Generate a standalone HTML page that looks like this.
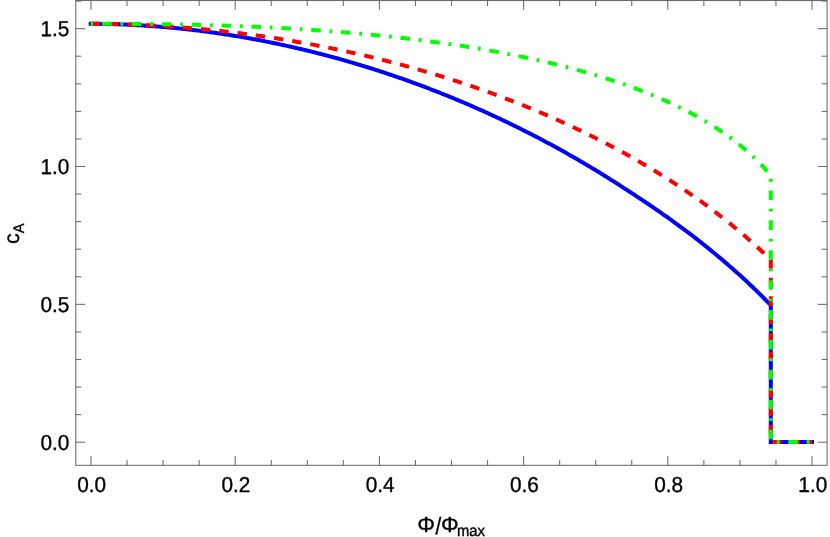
<!DOCTYPE html>
<html><head><meta charset="utf-8"><title>plot</title>
<style>
html,body{margin:0;padding:0;background:#fff;}
body{width:830px;height:537px;overflow:hidden;}
svg{display:block;}
text{font-family:"Liberation Sans",sans-serif;fill:#000;stroke:#000;stroke-width:0.35px;text-rendering:geometricPrecision;}
.tl{font-size:21px;}
</style></head><body>
<svg width="830" height="537" viewBox="0 0 830 537">
<rect width="830" height="537" fill="#fff"/>
<g stroke="#6a6a6a" stroke-width="1.05" fill="none">
<rect x="75.79" y="0.52" width="751.29" height="464.78"/>
<line x1="91.00" y1="465.3" x2="91.00" y2="456.00"/>
<line x1="91.00" y1="0.52" x2="91.00" y2="9.82"/>
<line x1="127.05" y1="465.3" x2="127.05" y2="459.90"/>
<line x1="127.05" y1="0.52" x2="127.05" y2="5.92"/>
<line x1="163.10" y1="465.3" x2="163.10" y2="459.90"/>
<line x1="163.10" y1="0.52" x2="163.10" y2="5.92"/>
<line x1="199.15" y1="465.3" x2="199.15" y2="459.90"/>
<line x1="199.15" y1="0.52" x2="199.15" y2="5.92"/>
<line x1="235.20" y1="465.3" x2="235.20" y2="456.00"/>
<line x1="235.20" y1="0.52" x2="235.20" y2="9.82"/>
<line x1="271.25" y1="465.3" x2="271.25" y2="459.90"/>
<line x1="271.25" y1="0.52" x2="271.25" y2="5.92"/>
<line x1="307.30" y1="465.3" x2="307.30" y2="459.90"/>
<line x1="307.30" y1="0.52" x2="307.30" y2="5.92"/>
<line x1="343.35" y1="465.3" x2="343.35" y2="459.90"/>
<line x1="343.35" y1="0.52" x2="343.35" y2="5.92"/>
<line x1="379.40" y1="465.3" x2="379.40" y2="456.00"/>
<line x1="379.40" y1="0.52" x2="379.40" y2="9.82"/>
<line x1="415.45" y1="465.3" x2="415.45" y2="459.90"/>
<line x1="415.45" y1="0.52" x2="415.45" y2="5.92"/>
<line x1="451.50" y1="465.3" x2="451.50" y2="459.90"/>
<line x1="451.50" y1="0.52" x2="451.50" y2="5.92"/>
<line x1="487.55" y1="465.3" x2="487.55" y2="459.90"/>
<line x1="487.55" y1="0.52" x2="487.55" y2="5.92"/>
<line x1="523.60" y1="465.3" x2="523.60" y2="456.00"/>
<line x1="523.60" y1="0.52" x2="523.60" y2="9.82"/>
<line x1="559.65" y1="465.3" x2="559.65" y2="459.90"/>
<line x1="559.65" y1="0.52" x2="559.65" y2="5.92"/>
<line x1="595.70" y1="465.3" x2="595.70" y2="459.90"/>
<line x1="595.70" y1="0.52" x2="595.70" y2="5.92"/>
<line x1="631.75" y1="465.3" x2="631.75" y2="459.90"/>
<line x1="631.75" y1="0.52" x2="631.75" y2="5.92"/>
<line x1="667.80" y1="465.3" x2="667.80" y2="456.00"/>
<line x1="667.80" y1="0.52" x2="667.80" y2="9.82"/>
<line x1="703.85" y1="465.3" x2="703.85" y2="459.90"/>
<line x1="703.85" y1="0.52" x2="703.85" y2="5.92"/>
<line x1="739.90" y1="465.3" x2="739.90" y2="459.90"/>
<line x1="739.90" y1="0.52" x2="739.90" y2="5.92"/>
<line x1="775.95" y1="465.3" x2="775.95" y2="459.90"/>
<line x1="775.95" y1="0.52" x2="775.95" y2="5.92"/>
<line x1="812.00" y1="465.3" x2="812.00" y2="456.00"/>
<line x1="812.00" y1="0.52" x2="812.00" y2="9.82"/>
<line x1="75.79" y1="442.20" x2="85.09" y2="442.20"/>
<line x1="827.08" y1="442.20" x2="817.78" y2="442.20"/>
<line x1="75.79" y1="414.63" x2="81.19" y2="414.63"/>
<line x1="827.08" y1="414.63" x2="821.68" y2="414.63"/>
<line x1="75.79" y1="387.06" x2="81.19" y2="387.06"/>
<line x1="827.08" y1="387.06" x2="821.68" y2="387.06"/>
<line x1="75.79" y1="359.49" x2="81.19" y2="359.49"/>
<line x1="827.08" y1="359.49" x2="821.68" y2="359.49"/>
<line x1="75.79" y1="331.92" x2="81.19" y2="331.92"/>
<line x1="827.08" y1="331.92" x2="821.68" y2="331.92"/>
<line x1="75.79" y1="304.35" x2="85.09" y2="304.35"/>
<line x1="827.08" y1="304.35" x2="817.78" y2="304.35"/>
<line x1="75.79" y1="276.78" x2="81.19" y2="276.78"/>
<line x1="827.08" y1="276.78" x2="821.68" y2="276.78"/>
<line x1="75.79" y1="249.21" x2="81.19" y2="249.21"/>
<line x1="827.08" y1="249.21" x2="821.68" y2="249.21"/>
<line x1="75.79" y1="221.64" x2="81.19" y2="221.64"/>
<line x1="827.08" y1="221.64" x2="821.68" y2="221.64"/>
<line x1="75.79" y1="194.07" x2="81.19" y2="194.07"/>
<line x1="827.08" y1="194.07" x2="821.68" y2="194.07"/>
<line x1="75.79" y1="166.50" x2="85.09" y2="166.50"/>
<line x1="827.08" y1="166.50" x2="817.78" y2="166.50"/>
<line x1="75.79" y1="138.93" x2="81.19" y2="138.93"/>
<line x1="827.08" y1="138.93" x2="821.68" y2="138.93"/>
<line x1="75.79" y1="111.36" x2="81.19" y2="111.36"/>
<line x1="827.08" y1="111.36" x2="821.68" y2="111.36"/>
<line x1="75.79" y1="83.79" x2="81.19" y2="83.79"/>
<line x1="827.08" y1="83.79" x2="821.68" y2="83.79"/>
<line x1="75.79" y1="56.22" x2="81.19" y2="56.22"/>
<line x1="827.08" y1="56.22" x2="821.68" y2="56.22"/>
<line x1="75.79" y1="28.65" x2="85.09" y2="28.65"/>
<line x1="827.08" y1="28.65" x2="817.78" y2="28.65"/>
<line x1="75.79" y1="1.08" x2="81.19" y2="1.08"/>
<line x1="827.08" y1="1.08" x2="821.68" y2="1.08"/>
</g>

<path d="M90.70,23.82 L92.06,23.82 L93.43,23.82 L94.79,23.83 L96.15,23.84 L97.51,23.85 L98.88,23.86 L100.24,23.88 L101.60,23.90 L102.97,23.92 L104.33,23.94 L105.69,23.97 L107.06,23.99 L108.42,24.02 L109.78,24.05 L111.14,24.09 L112.51,24.12 L113.87,24.16 L115.23,24.20 L116.60,24.24 L117.96,24.29 L119.32,24.33 L120.68,24.38 L122.05,24.44 L123.41,24.49 L124.77,24.54 L126.14,24.60 L127.50,24.66 L128.86,24.72 L130.22,24.79 L131.59,24.85 L132.95,24.92 L134.31,24.99 L135.68,25.06 L137.04,25.14 L138.40,25.21 L139.77,25.29 L141.13,25.37 L142.49,25.46 L143.85,25.54 L145.22,25.63 L146.58,25.72 L147.94,25.81 L149.31,25.90 L150.67,26.00 L152.03,26.10 L153.39,26.20 L154.76,26.30 L156.12,26.40 L157.48,26.51 L158.85,26.62 L160.21,26.73 L161.57,26.84 L162.94,26.95 L164.30,27.07 L165.66,27.19 L167.02,27.31 L168.39,27.43 L169.75,27.55 L171.11,27.68 L172.48,27.81 L173.84,27.94 L175.20,28.07 L176.56,28.21 L177.93,28.34 L179.29,28.48 L180.65,28.62 L182.02,28.77 L183.38,28.91 L184.74,29.06 L186.10,29.21 L187.47,29.36 L188.83,29.51 L190.19,29.67 L191.56,29.82 L192.92,29.98 L194.28,30.14 L195.65,30.31 L197.01,30.47 L198.37,30.64 L199.73,30.81 L201.10,30.98 L202.46,31.15 L203.82,31.33 L205.19,31.51 L206.55,31.69 L207.91,31.87 L209.27,32.05 L210.64,32.24 L212.00,32.43 L213.36,32.62 L214.73,32.81 L216.09,33.00 L217.45,33.20 L218.82,33.40 L220.18,33.60 L221.54,33.80 L222.90,34.00 L224.27,34.21 L225.63,34.42 L226.99,34.63 L228.36,34.84 L229.72,35.05 L231.08,35.27 L232.44,35.49 L233.81,35.71 L235.17,35.93 L236.53,36.15 L237.90,36.38 L239.26,36.61 L240.62,36.84 L241.98,37.07 L243.35,37.31 L244.71,37.54 L246.07,37.78 L247.44,38.02 L248.80,38.27 L250.16,38.51 L251.53,38.76 L252.89,39.01 L254.25,39.26 L255.61,39.51 L256.98,39.76 L258.34,40.02 L259.70,40.28 L261.07,40.54 L262.43,40.80 L263.79,41.07 L265.15,41.34 L266.52,41.60 L267.88,41.88 L269.24,42.15 L270.61,42.42 L271.97,42.70 L273.33,42.98 L274.69,43.26 L276.06,43.55 L277.42,43.83 L278.78,44.12 L280.15,44.41 L281.51,44.70 L282.87,44.99 L284.24,45.29 L285.60,45.59 L286.96,45.89 L288.32,46.19 L289.69,46.49 L291.05,46.80 L292.41,47.11 L293.78,47.42 L295.14,47.73 L296.50,48.04 L297.86,48.36 L299.23,48.68 L300.59,49.00 L301.95,49.32 L303.32,49.64 L304.68,49.97 L306.04,50.30 L307.41,50.63 L308.77,50.96 L310.13,51.30 L311.49,51.63 L312.86,51.97 L314.22,52.31 L315.58,52.65 L316.95,53.00 L318.31,53.35 L319.67,53.70 L321.03,54.05 L322.40,54.40 L323.76,54.76 L325.12,55.11 L326.49,55.47 L327.85,55.83 L329.21,56.20 L330.57,56.56 L331.94,56.93 L333.30,57.30 L334.66,57.67 L336.03,58.05 L337.39,58.42 L338.75,58.80 L340.12,59.18 L341.48,59.56 L342.84,59.95 L344.20,60.34 L345.57,60.72 L346.93,61.11 L348.29,61.51 L349.66,61.90 L351.02,62.30 L352.38,62.70 L353.74,63.10 L355.11,63.50 L356.47,63.91 L357.83,64.32 L359.20,64.73 L360.56,65.14 L361.92,65.55 L363.29,65.97 L364.65,66.39 L366.01,66.81 L367.37,67.23 L368.74,67.65 L370.10,68.08 L371.46,68.51 L372.83,68.94 L374.19,69.37 L375.55,69.81 L376.91,70.24 L378.28,70.68 L379.64,71.13 L381.00,71.57 L382.37,72.02 L383.73,72.46 L385.09,72.91 L386.45,73.37 L387.82,73.82 L389.18,74.28 L390.54,74.74 L391.91,75.20 L393.27,75.66 L394.63,76.12 L396.00,76.59 L397.36,77.06 L398.72,77.53 L400.08,78.01 L401.45,78.48 L402.81,78.96 L404.17,79.44 L405.54,79.92 L406.90,80.41 L408.26,80.90 L409.62,81.39 L410.99,81.88 L412.35,82.37 L413.71,82.87 L415.08,83.36 L416.44,83.86 L417.80,84.37 L419.17,84.87 L420.53,85.38 L421.89,85.89 L423.25,86.40 L424.62,86.91 L425.98,87.43 L427.34,87.94 L428.71,88.46 L430.07,88.99 L431.43,89.51 L432.79,90.04 L434.16,90.57 L435.52,91.10 L436.88,91.63 L438.25,92.17 L439.61,92.71 L440.97,93.25 L442.33,93.79 L443.70,94.33 L445.06,94.88 L446.42,95.43 L447.79,95.98 L449.15,96.54 L450.51,97.09 L451.88,97.65 L453.24,98.21 L454.60,98.77 L455.96,99.34 L457.33,99.91 L458.69,100.48 L460.05,101.05 L461.42,101.62 L462.78,102.20 L464.14,102.78 L465.50,103.36 L466.87,103.94 L468.23,104.53 L469.59,105.12 L470.96,105.71 L472.32,106.30 L473.68,106.90 L475.05,107.49 L476.41,108.09 L477.77,108.70 L479.13,109.30 L480.50,109.91 L481.86,110.52 L483.22,111.13 L484.59,111.74 L485.95,112.36 L487.31,112.98 L488.67,113.60 L490.04,114.22 L491.40,114.85 L492.76,115.48 L494.13,116.11 L495.49,116.74 L496.85,117.38 L498.21,118.02 L499.58,118.66 L500.94,119.30 L502.30,119.94 L503.67,120.59 L505.03,121.24 L506.39,121.90 L507.76,122.55 L509.12,123.21 L510.48,123.87 L511.84,124.53 L513.21,125.20 L514.57,125.86 L515.93,126.53 L517.30,127.20 L518.66,127.88 L520.02,128.56 L521.38,129.24 L522.75,129.92 L524.11,130.60 L525.47,131.29 L526.84,131.98 L528.20,132.67 L529.56,133.37 L530.93,134.07 L532.29,134.77 L533.65,135.47 L535.01,136.17 L536.38,136.88 L537.74,137.59 L539.10,138.30 L540.47,139.02 L541.83,139.74 L543.19,140.46 L544.55,141.18 L545.92,141.91 L547.28,142.64 L548.64,143.37 L550.01,144.10 L551.37,144.84 L552.73,145.58 L554.09,146.32 L555.46,147.06 L556.82,147.81 L558.18,148.56 L559.55,149.31 L560.91,150.07 L562.27,150.82 L563.64,151.58 L565.00,152.35 L566.36,153.11 L567.72,153.88 L569.09,154.65 L570.45,155.43 L571.81,156.20 L573.18,156.98 L574.54,157.76 L575.90,158.55 L577.26,159.34 L578.63,160.13 L579.99,160.92 L581.35,161.72 L582.72,162.51 L584.08,163.32 L585.44,164.12 L586.81,164.93 L588.17,165.74 L589.53,166.55 L590.89,167.37 L592.26,168.19 L593.62,169.01 L594.98,169.83 L596.35,170.66 L597.71,171.49 L599.07,172.32 L600.43,173.16 L601.80,174.00 L603.16,174.84 L604.52,175.68 L605.89,176.53 L607.25,177.38 L608.61,178.24 L609.97,179.09 L611.34,179.95 L612.70,180.82 L614.06,181.68 L615.43,182.55 L616.79,183.42 L618.15,184.30 L619.52,185.18 L620.88,186.06 L622.24,186.94 L623.60,187.82 L624.97,188.71 L626.33,189.59 L627.69,190.47 L629.06,191.36 L630.42,192.25 L631.78,193.14 L633.14,194.03 L634.51,194.92 L635.87,195.82 L637.23,196.71 L638.60,197.61 L639.96,198.51 L641.32,199.42 L642.68,200.33 L644.05,201.23 L645.41,202.15 L646.77,203.06 L648.14,203.98 L649.50,204.90 L650.86,205.83 L652.23,206.76 L653.59,207.69 L654.95,208.63 L656.31,209.57 L657.68,210.51 L659.04,211.46 L660.40,212.41 L661.77,213.37 L663.13,214.33 L664.49,215.29 L665.85,216.25 L667.22,217.21 L668.58,218.18 L669.94,219.15 L671.31,220.13 L672.67,221.10 L674.03,222.08 L675.40,223.07 L676.76,224.05 L678.12,225.04 L679.48,226.04 L680.85,227.04 L682.21,228.04 L683.57,229.05 L684.94,230.06 L686.30,231.08 L687.66,232.10 L689.02,233.13 L690.39,234.17 L691.75,235.20 L693.11,236.25 L694.48,237.30 L695.84,238.36 L697.20,239.42 L698.56,240.49 L699.93,241.56 L701.29,242.64 L702.65,243.73 L704.02,244.82 L705.38,245.91 L706.74,247.01 L708.11,248.11 L709.47,249.22 L710.83,250.33 L712.19,251.45 L713.56,252.57 L714.92,253.70 L716.28,254.83 L717.65,255.96 L719.01,257.10 L720.37,258.25 L721.73,259.40 L723.10,260.56 L724.46,261.72 L725.82,262.88 L727.19,264.05 L728.55,265.23 L729.91,266.41 L731.28,267.60 L732.64,268.79 L734.00,269.99 L735.36,271.20 L736.73,272.41 L738.09,273.62 L739.45,274.85 L740.82,276.07 L742.18,277.31 L743.54,278.56 L744.90,279.81 L746.27,281.08 L747.63,282.35 L748.99,283.63 L750.36,284.92 L751.72,286.22 L753.08,287.53 L754.44,288.84 L755.81,290.17 L757.17,291.50 L758.53,292.84 L759.90,294.19 L761.26,295.54 L762.62,296.90 L763.99,298.27 L765.35,299.65 L766.71,301.04 L768.07,302.43 L769.44,303.83 L770.80,305.24 L770.80,442.00 L812.00,442.00" fill="none" stroke="#0000ff" stroke-width="4.0" stroke-linecap="square" stroke-linejoin="miter"/>
<path d="M90.70,23.82 L92.06,23.82 L93.43,23.82 L94.79,23.83 L96.15,23.83 L97.51,23.84 L98.88,23.85 L100.24,23.86 L101.60,23.87 L102.97,23.89 L104.33,23.90 L105.69,23.92 L107.06,23.94 L108.42,23.96 L109.78,23.98 L111.14,24.01 L112.51,24.03 L113.87,24.06 L115.23,24.09 L116.60,24.12 L117.96,24.15 L119.32,24.18 L120.68,24.22 L122.05,24.26 L123.41,24.29 L124.77,24.33 L126.14,24.38 L127.50,24.42 L128.86,24.46 L130.22,24.51 L131.59,24.56 L132.95,24.61 L134.31,24.66 L135.68,24.71 L137.04,24.76 L138.40,24.82 L139.77,24.87 L141.13,24.93 L142.49,24.99 L143.85,25.05 L145.22,25.12 L146.58,25.18 L147.94,25.25 L149.31,25.32 L150.67,25.39 L152.03,25.46 L153.39,25.53 L154.76,25.60 L156.12,25.68 L157.48,25.75 L158.85,25.83 L160.21,25.91 L161.57,25.99 L162.94,26.08 L164.30,26.16 L165.66,26.25 L167.02,26.34 L168.39,26.43 L169.75,26.52 L171.11,26.61 L172.48,26.70 L173.84,26.80 L175.20,26.89 L176.56,26.99 L177.93,27.09 L179.29,27.19 L180.65,27.30 L182.02,27.40 L183.38,27.51 L184.74,27.62 L186.10,27.72 L187.47,27.83 L188.83,27.95 L190.19,28.06 L191.56,28.18 L192.92,28.29 L194.28,28.41 L195.65,28.53 L197.01,28.65 L198.37,28.78 L199.73,28.90 L201.10,29.03 L202.46,29.15 L203.82,29.28 L205.19,29.41 L206.55,29.54 L207.91,29.68 L209.27,29.81 L210.64,29.95 L212.00,30.09 L213.36,30.23 L214.73,30.37 L216.09,30.51 L217.45,30.66 L218.82,30.80 L220.18,30.95 L221.54,31.10 L222.90,31.25 L224.27,31.40 L225.63,31.56 L226.99,31.71 L228.36,31.87 L229.72,32.03 L231.08,32.19 L232.44,32.35 L233.81,32.51 L235.17,32.67 L236.53,32.84 L237.90,33.01 L239.26,33.18 L240.62,33.35 L241.98,33.52 L243.35,33.69 L244.71,33.87 L246.07,34.05 L247.44,34.23 L248.80,34.41 L250.16,34.59 L251.53,34.77 L252.89,34.95 L254.25,35.14 L255.61,35.33 L256.98,35.52 L258.34,35.71 L259.70,35.90 L261.07,36.10 L262.43,36.29 L263.79,36.49 L265.15,36.69 L266.52,36.89 L267.88,37.09 L269.24,37.29 L270.61,37.50 L271.97,37.71 L273.33,37.91 L274.69,38.12 L276.06,38.33 L277.42,38.55 L278.78,38.76 L280.15,38.98 L281.51,39.20 L282.87,39.42 L284.24,39.64 L285.60,39.86 L286.96,40.08 L288.32,40.31 L289.69,40.54 L291.05,40.77 L292.41,41.00 L293.78,41.23 L295.14,41.46 L296.50,41.70 L297.86,41.93 L299.23,42.17 L300.59,42.41 L301.95,42.65 L303.32,42.90 L304.68,43.14 L306.04,43.39 L307.41,43.64 L308.77,43.89 L310.13,44.14 L311.49,44.39 L312.86,44.65 L314.22,44.90 L315.58,45.16 L316.95,45.42 L318.31,45.68 L319.67,45.95 L321.03,46.21 L322.40,46.48 L323.76,46.74 L325.12,47.01 L326.49,47.29 L327.85,47.56 L329.21,47.83 L330.57,48.11 L331.94,48.39 L333.30,48.67 L334.66,48.95 L336.03,49.23 L337.39,49.51 L338.75,49.80 L340.12,50.09 L341.48,50.38 L342.84,50.67 L344.20,50.96 L345.57,51.26 L346.93,51.55 L348.29,51.85 L349.66,52.15 L351.02,52.45 L352.38,52.75 L353.74,53.06 L355.11,53.37 L356.47,53.67 L357.83,53.98 L359.20,54.29 L360.56,54.61 L361.92,54.92 L363.29,55.24 L364.65,55.56 L366.01,55.88 L367.37,56.20 L368.74,56.52 L370.10,56.85 L371.46,57.18 L372.83,57.50 L374.19,57.84 L375.55,58.17 L376.91,58.50 L378.28,58.84 L379.64,59.17 L381.00,59.51 L382.37,59.85 L383.73,60.20 L385.09,60.54 L386.45,60.89 L387.82,61.24 L389.18,61.59 L390.54,61.94 L391.91,62.29 L393.27,62.65 L394.63,63.00 L396.00,63.36 L397.36,63.72 L398.72,64.09 L400.08,64.45 L401.45,64.82 L402.81,65.18 L404.17,65.55 L405.54,65.92 L406.90,66.30 L408.26,66.67 L409.62,67.05 L410.99,67.43 L412.35,67.81 L413.71,68.19 L415.08,68.58 L416.44,68.96 L417.80,69.35 L419.17,69.74 L420.53,70.13 L421.89,70.53 L423.25,70.92 L424.62,71.32 L425.98,71.72 L427.34,72.12 L428.71,72.52 L430.07,72.93 L431.43,73.33 L432.79,73.74 L434.16,74.15 L435.52,74.57 L436.88,74.98 L438.25,75.40 L439.61,75.81 L440.97,76.24 L442.33,76.66 L443.70,77.08 L445.06,77.51 L446.42,77.94 L447.79,78.37 L449.15,78.80 L450.51,79.23 L451.88,79.67 L453.24,80.11 L454.60,80.55 L455.96,80.99 L457.33,81.43 L458.69,81.88 L460.05,82.32 L461.42,82.77 L462.78,83.23 L464.14,83.68 L465.50,84.14 L466.87,84.59 L468.23,85.05 L469.59,85.52 L470.96,85.98 L472.32,86.45 L473.68,86.91 L475.05,87.38 L476.41,87.86 L477.77,88.33 L479.13,88.81 L480.50,89.29 L481.86,89.77 L483.22,90.25 L484.59,90.73 L485.95,91.22 L487.31,91.71 L488.67,92.20 L490.04,92.70 L491.40,93.19 L492.76,93.69 L494.13,94.19 L495.49,94.69 L496.85,95.19 L498.21,95.70 L499.58,96.21 L500.94,96.72 L502.30,97.23 L503.67,97.75 L505.03,98.27 L506.39,98.78 L507.76,99.31 L509.12,99.83 L510.48,100.36 L511.84,100.89 L513.21,101.42 L514.57,101.95 L515.93,102.48 L517.30,103.02 L518.66,103.56 L520.02,104.10 L521.38,104.65 L522.75,105.20 L524.11,105.74 L525.47,106.30 L526.84,106.85 L528.20,107.41 L529.56,107.96 L530.93,108.53 L532.29,109.09 L533.65,109.65 L535.01,110.22 L536.38,110.79 L537.74,111.37 L539.10,111.94 L540.47,112.52 L541.83,113.10 L543.19,113.68 L544.55,114.27 L545.92,114.85 L547.28,115.44 L548.64,116.04 L550.01,116.63 L551.37,117.23 L552.73,117.83 L554.09,118.43 L555.46,119.04 L556.82,119.65 L558.18,120.26 L559.55,120.87 L560.91,121.48 L562.27,122.10 L563.64,122.72 L565.00,123.35 L566.36,123.97 L567.72,124.60 L569.09,125.23 L570.45,125.87 L571.81,126.50 L573.18,127.14 L574.54,127.78 L575.90,128.43 L577.26,129.08 L578.63,129.73 L579.99,130.38 L581.35,131.03 L582.72,131.69 L584.08,132.35 L585.44,133.02 L586.81,133.68 L588.17,134.35 L589.53,135.03 L590.89,135.70 L592.26,136.38 L593.62,137.06 L594.98,137.75 L596.35,138.43 L597.71,139.12 L599.07,139.82 L600.43,140.51 L601.80,141.21 L603.16,141.91 L604.52,142.62 L605.89,143.33 L607.25,144.04 L608.61,144.75 L609.97,145.47 L611.34,146.19 L612.70,146.91 L614.06,147.64 L615.43,148.37 L616.79,149.10 L618.15,149.84 L619.52,150.58 L620.88,151.32 L622.24,152.07 L623.60,152.82 L624.97,153.57 L626.33,154.32 L627.69,155.08 L629.06,155.85 L630.42,156.61 L631.78,157.38 L633.14,158.15 L634.51,158.93 L635.87,159.71 L637.23,160.49 L638.60,161.28 L639.96,162.07 L641.32,162.86 L642.68,163.66 L644.05,164.46 L645.41,165.27 L646.77,166.07 L648.14,166.89 L649.50,167.70 L650.86,168.52 L652.23,169.34 L653.59,170.17 L654.95,171.00 L656.31,171.83 L657.68,172.67 L659.04,173.51 L660.40,174.36 L661.77,175.21 L663.13,176.06 L664.49,176.92 L665.85,177.78 L667.22,178.65 L668.58,179.52 L669.94,180.39 L671.31,181.27 L672.67,182.16 L674.03,183.04 L675.40,183.93 L676.76,184.83 L678.12,185.73 L679.48,186.63 L680.85,187.54 L682.21,188.45 L683.57,189.37 L684.94,190.29 L686.30,191.22 L687.66,192.15 L689.02,193.09 L690.39,194.03 L691.75,194.97 L693.11,195.92 L694.48,196.88 L695.84,197.84 L697.20,198.80 L698.56,199.77 L699.93,200.74 L701.29,201.72 L702.65,202.71 L704.02,203.70 L705.38,204.69 L706.74,205.69 L708.11,206.70 L709.47,207.71 L710.83,208.72 L712.19,209.75 L713.56,210.77 L714.92,211.81 L716.28,212.84 L717.65,213.89 L719.01,214.94 L720.37,215.99 L721.73,217.05 L723.10,218.12 L724.46,219.19 L725.82,220.27 L727.19,221.36 L728.55,222.45 L729.91,223.55 L731.28,224.65 L732.64,225.76 L734.00,226.88 L735.36,228.01 L736.73,229.14 L738.09,230.27 L739.45,231.42 L740.82,232.57 L742.18,233.73 L743.54,234.89 L744.90,236.07 L746.27,237.25 L747.63,238.43 L748.99,239.63 L750.36,240.83 L751.72,242.04 L753.08,243.26 L754.44,244.49 L755.81,245.72 L757.17,246.97 L758.53,248.22 L759.90,249.48 L761.26,250.74 L762.62,252.02 L763.99,253.31 L765.35,254.60 L766.71,255.91 L768.07,257.22 L769.44,258.54 L770.80,259.88 L770.80,442.00 L812.00,442.00" fill="none" stroke="#ff0000" stroke-width="4.0" stroke-dasharray="9.4 9.0" stroke-linejoin="miter"/>
<path d="M90.70,23.82 L92.06,23.82 L93.43,23.82 L94.79,23.82 L96.15,23.82 L97.51,23.82 L98.88,23.82 L100.24,23.82 L101.60,23.82 L102.97,23.82 L104.33,23.83 L105.69,23.83 L107.06,23.83 L108.42,23.83 L109.78,23.84 L111.14,23.84 L112.51,23.84 L113.87,23.85 L115.23,23.85 L116.60,23.85 L117.96,23.86 L119.32,23.86 L120.68,23.87 L122.05,23.87 L123.41,23.88 L124.77,23.89 L126.14,23.89 L127.50,23.90 L128.86,23.91 L130.22,23.92 L131.59,23.92 L132.95,23.93 L134.31,23.94 L135.68,23.95 L137.04,23.96 L138.40,23.97 L139.77,23.98 L141.13,23.99 L142.49,24.01 L143.85,24.02 L145.22,24.03 L146.58,24.04 L147.94,24.06 L149.31,24.07 L150.67,24.08 L152.03,24.10 L153.39,24.11 L154.76,24.13 L156.12,24.14 L157.48,24.16 L158.85,24.18 L160.21,24.20 L161.57,24.21 L162.94,24.23 L164.30,24.25 L165.66,24.27 L167.02,24.29 L168.39,24.31 L169.75,24.33 L171.11,24.35 L172.48,24.37 L173.84,24.40 L175.20,24.42 L176.56,24.44 L177.93,24.47 L179.29,24.49 L180.65,24.52 L182.02,24.54 L183.38,24.57 L184.74,24.59 L186.10,24.62 L187.47,24.65 L188.83,24.68 L190.19,24.71 L191.56,24.74 L192.92,24.77 L194.28,24.80 L195.65,24.83 L197.01,24.86 L198.37,24.89 L199.73,24.92 L201.10,24.96 L202.46,24.99 L203.82,25.03 L205.19,25.06 L206.55,25.10 L207.91,25.13 L209.27,25.17 L210.64,25.21 L212.00,25.25 L213.36,25.28 L214.73,25.32 L216.09,25.36 L217.45,25.40 L218.82,25.44 L220.18,25.49 L221.54,25.53 L222.90,25.57 L224.27,25.62 L225.63,25.66 L226.99,25.71 L228.36,25.75 L229.72,25.80 L231.08,25.84 L232.44,25.89 L233.81,25.94 L235.17,25.99 L236.53,26.04 L237.90,26.09 L239.26,26.14 L240.62,26.19 L241.98,26.24 L243.35,26.30 L244.71,26.35 L246.07,26.40 L247.44,26.46 L248.80,26.51 L250.16,26.57 L251.53,26.63 L252.89,26.68 L254.25,26.74 L255.61,26.80 L256.98,26.86 L258.34,26.92 L259.70,26.98 L261.07,27.05 L262.43,27.11 L263.79,27.17 L265.15,27.24 L266.52,27.30 L267.88,27.37 L269.24,27.43 L270.61,27.50 L271.97,27.57 L273.33,27.64 L274.69,27.70 L276.06,27.77 L277.42,27.85 L278.78,27.92 L280.15,27.99 L281.51,28.06 L282.87,28.14 L284.24,28.21 L285.60,28.29 L286.96,28.36 L288.32,28.44 L289.69,28.52 L291.05,28.60 L292.41,28.67 L293.78,28.75 L295.14,28.84 L296.50,28.92 L297.86,29.00 L299.23,29.08 L300.59,29.17 L301.95,29.25 L303.32,29.34 L304.68,29.42 L306.04,29.51 L307.41,29.60 L308.77,29.69 L310.13,29.78 L311.49,29.87 L312.86,29.96 L314.22,30.05 L315.58,30.15 L316.95,30.24 L318.31,30.33 L319.67,30.43 L321.03,30.53 L322.40,30.62 L323.76,30.72 L325.12,30.82 L326.49,30.92 L327.85,31.02 L329.21,31.12 L330.57,31.23 L331.94,31.33 L333.30,31.43 L334.66,31.54 L336.03,31.65 L337.39,31.75 L338.75,31.86 L340.12,31.97 L341.48,32.08 L342.84,32.19 L344.20,32.30 L345.57,32.42 L346.93,32.53 L348.29,32.64 L349.66,32.76 L351.02,32.88 L352.38,32.99 L353.74,33.11 L355.11,33.23 L356.47,33.35 L357.83,33.47 L359.20,33.59 L360.56,33.72 L361.92,33.84 L363.29,33.97 L364.65,34.09 L366.01,34.22 L367.37,34.35 L368.74,34.48 L370.10,34.61 L371.46,34.74 L372.83,34.87 L374.19,35.00 L375.55,35.14 L376.91,35.27 L378.28,35.41 L379.64,35.55 L381.00,35.69 L382.37,35.83 L383.73,35.97 L385.09,36.11 L386.45,36.25 L387.82,36.39 L389.18,36.54 L390.54,36.68 L391.91,36.83 L393.27,36.98 L394.63,37.13 L396.00,37.28 L397.36,37.43 L398.72,37.58 L400.08,37.73 L401.45,37.89 L402.81,38.05 L404.17,38.20 L405.54,38.36 L406.90,38.52 L408.26,38.68 L409.62,38.84 L410.99,39.00 L412.35,39.17 L413.71,39.33 L415.08,39.50 L416.44,39.66 L417.80,39.83 L419.17,40.00 L420.53,40.17 L421.89,40.35 L423.25,40.52 L424.62,40.69 L425.98,40.87 L427.34,41.05 L428.71,41.22 L430.07,41.40 L431.43,41.58 L432.79,41.77 L434.16,41.95 L435.52,42.13 L436.88,42.32 L438.25,42.51 L439.61,42.69 L440.97,42.88 L442.33,43.07 L443.70,43.27 L445.06,43.46 L446.42,43.66 L447.79,43.85 L449.15,44.05 L450.51,44.25 L451.88,44.45 L453.24,44.65 L454.60,44.85 L455.96,45.06 L457.33,45.26 L458.69,45.47 L460.05,45.68 L461.42,45.89 L462.78,46.10 L464.14,46.31 L465.50,46.53 L466.87,46.74 L468.23,46.96 L469.59,47.18 L470.96,47.40 L472.32,47.62 L473.68,47.84 L475.05,48.06 L476.41,48.29 L477.77,48.52 L479.13,48.75 L480.50,48.98 L481.86,49.21 L483.22,49.44 L484.59,49.68 L485.95,49.91 L487.31,50.15 L488.67,50.39 L490.04,50.63 L491.40,50.88 L492.76,51.12 L494.13,51.37 L495.49,51.61 L496.85,51.86 L498.21,52.11 L499.58,52.37 L500.94,52.62 L502.30,52.88 L503.67,53.14 L505.03,53.40 L506.39,53.66 L507.76,53.92 L509.12,54.18 L510.48,54.45 L511.84,54.72 L513.21,54.99 L514.57,55.26 L515.93,55.53 L517.30,55.81 L518.66,56.09 L520.02,56.37 L521.38,56.65 L522.75,56.93 L524.11,57.21 L525.47,57.50 L526.84,57.79 L528.20,58.08 L529.56,58.37 L530.93,58.67 L532.29,58.96 L533.65,59.26 L535.01,59.56 L536.38,59.86 L537.74,60.17 L539.10,60.47 L540.47,60.78 L541.83,61.09 L543.19,61.40 L544.55,61.72 L545.92,62.03 L547.28,62.35 L548.64,62.67 L550.01,63.00 L551.37,63.32 L552.73,63.65 L554.09,63.98 L555.46,64.31 L556.82,64.65 L558.18,64.98 L559.55,65.32 L560.91,65.66 L562.27,66.01 L563.64,66.35 L565.00,66.70 L566.36,67.05 L567.72,67.40 L569.09,67.76 L570.45,68.12 L571.81,68.48 L573.18,68.84 L574.54,69.20 L575.90,69.57 L577.26,69.94 L578.63,70.31 L579.99,70.69 L581.35,71.07 L582.72,71.45 L584.08,71.83 L585.44,72.22 L586.81,72.61 L588.17,73.00 L589.53,73.39 L590.89,73.79 L592.26,74.19 L593.62,74.59 L594.98,75.00 L596.35,75.41 L597.71,75.82 L599.07,76.23 L600.43,76.65 L601.80,77.07 L603.16,77.49 L604.52,77.92 L605.89,78.35 L607.25,78.78 L608.61,79.22 L609.97,79.66 L611.34,80.10 L612.70,80.54 L614.06,80.99 L615.43,81.45 L616.79,81.90 L618.15,82.36 L619.52,82.82 L620.88,83.29 L622.24,83.76 L623.60,84.23 L624.97,84.71 L626.33,85.19 L627.69,85.67 L629.06,86.16 L630.42,86.65 L631.78,87.15 L633.14,87.65 L634.51,88.15 L635.87,88.66 L637.23,89.17 L638.60,89.68 L639.96,90.20 L641.32,90.73 L642.68,91.26 L644.05,91.79 L645.41,92.32 L646.77,92.86 L648.14,93.41 L649.50,93.96 L650.86,94.51 L652.23,95.07 L653.59,95.64 L654.95,96.20 L656.31,96.78 L657.68,97.35 L659.04,97.94 L660.40,98.52 L661.77,99.12 L663.13,99.72 L664.49,100.32 L665.85,100.93 L667.22,101.54 L668.58,102.16 L669.94,102.78 L671.31,103.41 L672.67,104.05 L674.03,104.69 L675.40,105.34 L676.76,105.99 L678.12,106.65 L679.48,107.32 L680.85,107.99 L682.21,108.67 L683.57,109.35 L684.94,110.04 L686.30,110.74 L687.66,111.45 L689.02,112.16 L690.39,112.88 L691.75,113.60 L693.11,114.33 L694.48,115.07 L695.84,115.82 L697.20,116.58 L698.56,117.34 L699.93,118.11 L701.29,118.89 L702.65,119.68 L704.02,120.47 L705.38,121.28 L706.74,122.09 L708.11,122.91 L709.47,123.74 L710.83,124.58 L712.19,125.43 L713.56,126.29 L714.92,127.16 L716.28,128.04 L717.65,128.93 L719.01,129.83 L720.37,130.74 L721.73,131.66 L723.10,132.60 L724.46,133.54 L725.82,134.50 L727.19,135.47 L728.55,136.45 L729.91,137.44 L731.28,138.45 L732.64,139.47 L734.00,140.50 L735.36,141.55 L736.73,142.61 L738.09,143.69 L739.45,144.78 L740.82,145.89 L742.18,147.01 L743.54,148.15 L744.90,149.31 L746.27,150.48 L747.63,151.68 L748.99,152.89 L750.36,154.12 L751.72,155.37 L753.08,156.64 L754.44,157.93 L755.81,159.25 L757.17,160.59 L758.53,161.95 L759.90,163.33 L761.26,164.75 L762.62,166.18 L763.99,167.65 L765.35,169.14 L766.71,170.67 L768.07,172.22 L769.44,173.81 L770.80,175.43 L770.80,442.00 L812.00,442.00" fill="none" stroke="#00ff00" stroke-width="4.0" stroke-dasharray="2.7 8.8 9.6 8.8" stroke-dashoffset="0.2" stroke-linejoin="miter"/>

<defs><filter id="ga" x="-20%" y="-20%" width="140%" height="140%"><feOffset dx="0" dy="0"/></filter></defs>
<g filter="url(#ga)">
<text transform="translate(91.70,491.8) scale(0.99,1.03)" text-anchor="middle" class="tl">0.0</text>
<text transform="translate(235.94,491.8) scale(0.99,1.03)" text-anchor="middle" class="tl">0.2</text>
<text transform="translate(380.18,491.8) scale(0.99,1.03)" text-anchor="middle" class="tl">0.4</text>
<text transform="translate(524.42,491.8) scale(0.99,1.03)" text-anchor="middle" class="tl">0.6</text>
<text transform="translate(668.66,491.8) scale(0.99,1.03)" text-anchor="middle" class="tl">0.8</text>
<text transform="translate(812.90,491.8) scale(0.99,1.03)" text-anchor="middle" class="tl">1.0</text>
<text transform="translate(69.4,449.65) scale(0.99,1.03)" text-anchor="end" class="tl">0.0</text>
<text transform="translate(69.4,311.80) scale(0.99,1.03)" text-anchor="end" class="tl">0.5</text>
<text transform="translate(69.4,173.95) scale(0.99,1.03)" text-anchor="end" class="tl">1.0</text>
<text transform="translate(69.4,36.10) scale(0.99,1.03)" text-anchor="end" class="tl">1.5</text>
<rect x="42.0" y="172.55" width="8.7" height="1.7"/>
<rect x="42.0" y="34.70" width="8.7" height="1.7"/>
<rect x="799.4" y="490.3" width="8.5" height="1.7"/>
<text transform="translate(417.2,531.9) scale(1,0.98)" style="font-size:22.2px">Φ</text>
<text transform="translate(435.4,534.1) scale(0.95,1.08)" style="font-size:21.7px">/</text>
<text transform="translate(440.9,531.9) scale(1,0.98)" style="font-size:22.2px">Φ</text>
<text transform="translate(457.0,536.0) scale(1,1.07)" style="font-size:14.8px">max</text>
<g transform="translate(19.1,244.0) rotate(-90)"><text x="0" y="0" style="font-size:21.5px">c</text></g>
<g transform="translate(23.6,233.3) rotate(-90)"><text transform="scale(0.97,1)" style="font-size:15.3px">A</text></g>
</g>
</svg>
</body></html>
